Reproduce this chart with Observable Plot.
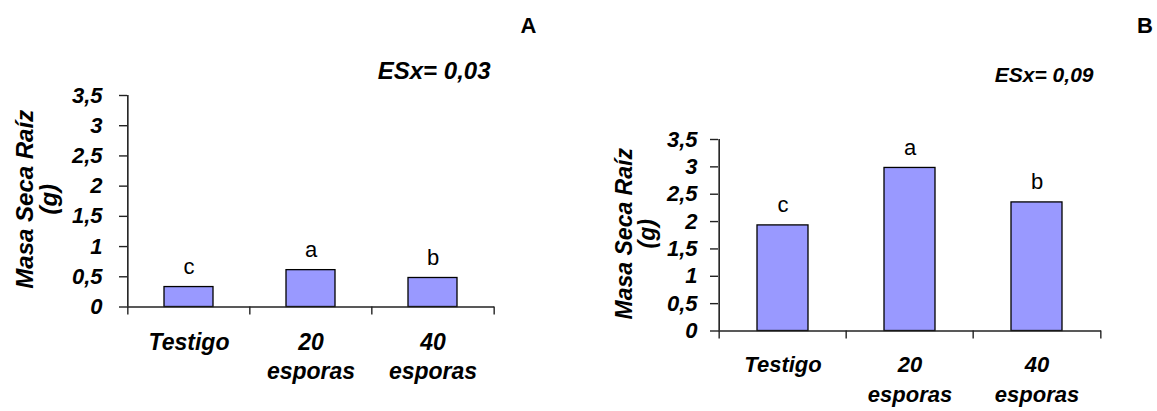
<!DOCTYPE html>
<html>
<head>
<meta charset="utf-8">
<script src="https://cdn.jsdelivr.net/npm/d3@7"></script>
<script src="https://cdn.jsdelivr.net/npm/@observablehq/plot@0.6"></script>
<style>
  html, body { margin: 0; padding: 0; background: #fff; }
  #wrap { position: relative; width: 1157px; height: 411px; overflow: hidden; font-family: "Liberation Sans", Arial, sans-serif; }
  #wrap > svg { position: absolute; top: 0; }
</style>
</head>
<body>
<div id="wrap"></div>
<script>
// ---- data ----
const categories = ["Testigo", "20 esporas", "40 esporas"];
const tickLabels = ["Testigo", "20\nesporas", "40\nesporas"];
const valuesA = [0.33, 0.61, 0.48];
const valuesB = [1.93, 2.98, 2.35];
const lettersA = ["c", "a", "b"];
const lettersB = ["c", "a", "b"];
const yTicks = [0, 0.5, 1, 1.5, 2, 2.5, 3, 3.5];
const panelTags = ["A", "B"];
const esxLabels = ["ESx= 0,03", "ESx= 0,09"];
const yLabel = "Masa Seca Raíz\n(g)";

const FONT = "Liberation Sans, Arial, sans-serif";
const labelOf = new Map(categories.map((c, i) => [c, tickLabels[i]]));

function panel(cfg) {
  const data = categories.map((c, i) => ({cat: c, value: cfg.values[i], letter: cfg.letters[i]}));
  const {width, height, mL, mR, mT, mB} = cfg;
  const step = (width - mL - mR) / categories.length;
  const yMax = yTicks[yTicks.length - 1];
  const axisColor = "#222";
  const svg = Plot.plot({
    width, height,
    marginLeft: mL, marginRight: mR, marginTop: mT, marginBottom: mB,
    style: {fontFamily: FONT, color: "#000", background: "transparent"},
    x: {type: "band", domain: categories, paddingInner: 0.6, paddingOuter: 0.3, label: null},
    y: {domain: [0, yMax], label: null},
    marks: [
      Plot.barY(data, {x: "cat", y: "value", fill: "#9999ff", stroke: "#000", strokeWidth: 1.3}),
      Plot.text(data, {x: "cat", y: "value", text: "letter", dy: -13, lineAnchor: "bottom",
        fontSize: 22, fill: "#000"}),
      // axes lines
      Plot.ruleY([0], {stroke: axisColor, strokeWidth: 1.6}),
      Plot.ruleX([categories[0]], {dx: -step / 2, y1: 0, y2: yMax, stroke: axisColor, strokeWidth: 1.6}),
      // y axis
      Plot.axisY({ticks: yTicks, tickSize: 8, tickPadding: cfg.yPad, stroke: axisColor, strokeWidth: 1.4,
        tickFormat: d => String(d).replace(".", ","),
        fontSize: cfg.tickFont, fontWeight: "bold", fontStyle: "italic", fill: "#000", label: null}),
      // x boundary ticks
      Plot.axisX({tickSize: 8, tickFormat: () => "", dx: -step / 2, stroke: axisColor, strokeWidth: 1.4, label: null}),
      Plot.axisX({ticks: [categories[categories.length - 1]], tickSize: 8, tickFormat: () => "", dx: step / 2,
        stroke: axisColor, strokeWidth: 1.4, label: null}),
      // x tick labels
      Plot.axisX({tickSize: 0, tickPadding: cfg.xPad, tickFormat: d => labelOf.get(d), lineHeight: cfg.xLine,
        fontSize: cfg.xFont, fontWeight: "bold", fontStyle: "italic", fill: "#000", label: null}),
      // y label
      Plot.text([yLabel], {text: d => d, frameAnchor: "left", rotate: -90, textAnchor: "middle", lineAnchor: "top", lineHeight: 1,
        dx: cfg.yLabDx, dy: cfg.yLabDy, fontSize: cfg.yLabFont, fontWeight: "bold", fontStyle: "italic", fill: "#000"}),
      // ESx
      Plot.text([cfg.esx], {text: d => d, frameAnchor: "top-right", textAnchor: "end", lineAnchor: "bottom",
        dx: cfg.esxDx, dy: cfg.esxDy, fontSize: cfg.esxFont, fontWeight: "bold", fontStyle: "italic", fill: "#000"}),
      // panel tag
      Plot.text([cfg.tag], {text: d => d, frameAnchor: "top-right", textAnchor: "end", lineAnchor: "bottom",
        dx: cfg.tagDx, dy: cfg.tagDy, fontSize: 22, fontWeight: "bold", fill: "#000"})
    ]
  });
  svg.style.left = cfg.left + "px";
  document.getElementById("wrap").appendChild(svg);
}

panel({
  values: valuesA, letters: lettersA, esx: esxLabels[0], tag: panelTags[0],
  left: 0, width: 560, height: 411, mL: 127, mR: 66, mT: 95, mB: 104.5,
  yPad: 17, tickFont: 22, xPad: 22, xLine: 1.27, xFont: 23,
  yLabDx: -112, yLabDy: -2, yLabFont: 24,
  esxDx: -4, esxDy: -16.7, esxFont: 24,
  tagDx: 42, tagDy: -62.7
});

panel({
  values: valuesB, letters: lettersB, esx: esxLabels[1], tag: panelTags[1],
  left: 580, width: 577, height: 411, mL: 138, mR: 56, mT: 139, mB: 80.5,
  yPad: 13, tickFont: 22, xPad: 20, xLine: 1.36, xFont: 22,
  yLabDx: -102.6, yLabDy: -1.5, yLabFont: 23,
  esxDx: -8, esxDy: -57.3, esxFont: 21,
  tagDx: 51.5, tagDy: -106.7
});
</script>
</body>
</html>
